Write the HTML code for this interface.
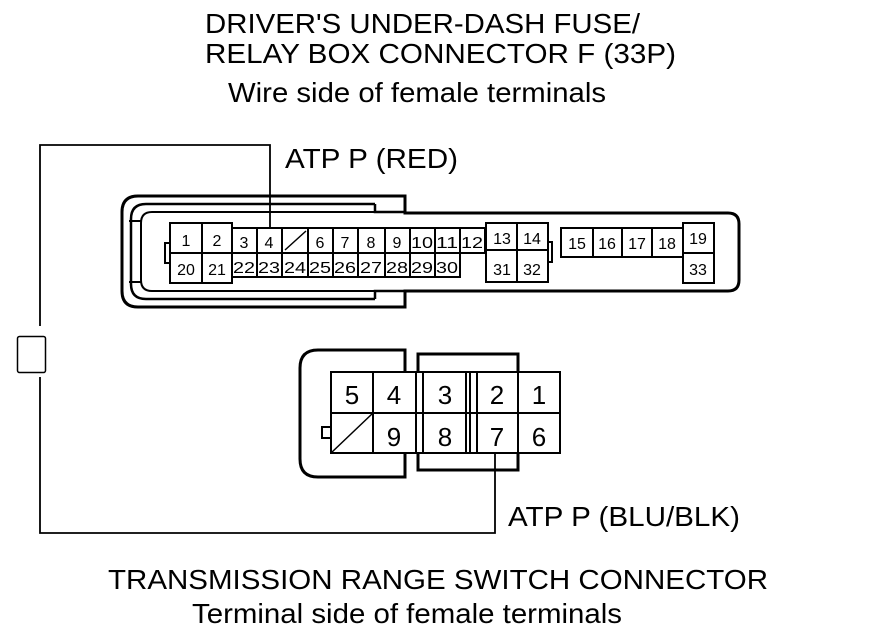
<!DOCTYPE html>
<html><head><meta charset="utf-8"><style>
html,body{margin:0;padding:0;background:#fff;}
svg{display:block;}
text{font-family:"Liberation Sans",sans-serif;fill:#000;}
</style></head><body>
<svg width="880" height="638" viewBox="0 0 880 638" xmlns="http://www.w3.org/2000/svg">
<g font-size="28">
<text x="205" y="33" textLength="435" lengthAdjust="spacingAndGlyphs">DRIVER'S UNDER-DASH FUSE/</text>
<text x="205" y="63" textLength="471" lengthAdjust="spacingAndGlyphs">RELAY BOX CONNECTOR F (33P)</text>
<text x="228" y="102" textLength="378" lengthAdjust="spacingAndGlyphs">Wire side of female terminals</text>
<text x="285" y="168" textLength="173" lengthAdjust="spacingAndGlyphs">ATP P (RED)</text>
<text x="508" y="526" textLength="232" lengthAdjust="spacingAndGlyphs">ATP P (BLU/BLK)</text>
<text x="108" y="589" textLength="660" lengthAdjust="spacingAndGlyphs">TRANSMISSION RANGE SWITCH CONNECTOR</text>
<text x="192" y="623" textLength="430" lengthAdjust="spacingAndGlyphs">Terminal side of female terminals</text>
</g>
<g fill="none" stroke="#000">
<path d="M270 228 V145 H40 V326" stroke-width="1.8"/>
<path d="M40 377 V533 H495 V453" stroke-width="1.8"/>
<rect x="17.5" y="336.5" width="28" height="36" rx="2" stroke-width="1.5"/>
</g>
<g fill="none" stroke="#000" stroke-width="3">
<path d="M405 196 H138 Q122 196 122 212 V291 Q122 307 138 307 H405 V291 H728 Q739 291 739 280 V224 Q739 213 728 213 H405 Z"/>
<path d="M375 204 H146 Q131 204 131 219 V284 Q131 299 146 299 H375" stroke-width="2.5"/>
<path d="M375 204 V212 H405" stroke-width="2.5"/>
<path d="M375 299 V291 H405" stroke-width="2.5"/>
<path d="M405 212 H152 Q141 212 141 223 V280 Q141 291 152 291 H405" stroke-width="2"/>
<path d="M141 221 H129 M141 282 H129" stroke-width="2"/>
</g>
<g fill="#fff" stroke="#000" stroke-width="2">
<rect x="165" y="243" width="5" height="20"/>
<rect x="170" y="223" width="32" height="60"/>
<rect x="202" y="223" width="30" height="60"/>
<rect x="232" y="228" width="253" height="25"/>
<rect x="232" y="253" width="228" height="24"/>
<rect x="486" y="223" width="62" height="59"/>
<rect x="548" y="242" width="4" height="20"/>
<rect x="561" y="228" width="122" height="29"/>
<rect x="683" y="223" width="31" height="60"/>
</g>
<g stroke="#000" stroke-width="2" fill="none">
<path d="M170 253 H232 M486 250 H548 M683 253 H714 M517 223 V282"/>
<path d="M257 228 V277 M282 228 V277 M308 228 V277 M333 228 V277 M358 228 V277 M385 228 V277 M410 228 V277 M435 228 V277 M460 228 V253"/>
<path d="M593 228 V257 M622 228 V257 M652 228 V257"/>
<path d="M285 250 L306 231" stroke-width="1.5"/>
</g>
<g font-size="16" text-anchor="middle">
<text x="186" y="246">1</text><text x="217" y="246">2</text>
<text x="244" y="248">3</text><text x="269" y="248">4</text>
<text x="320" y="248">6</text><text x="345" y="248">7</text><text x="371" y="248">8</text><text x="397" y="248">9</text>
<text x="422" y="248" textLength="22" lengthAdjust="spacingAndGlyphs">10</text><text x="447" y="248" textLength="22" lengthAdjust="spacingAndGlyphs">11</text><text x="472" y="248" textLength="22" lengthAdjust="spacingAndGlyphs">12</text>
<text x="186" y="275">20</text><text x="217" y="275">21</text>
<g textLength="22">
<text x="244" y="273" textLength="22" lengthAdjust="spacingAndGlyphs">22</text><text x="269" y="273" textLength="22" lengthAdjust="spacingAndGlyphs">23</text><text x="295" y="273" textLength="22" lengthAdjust="spacingAndGlyphs">24</text>
<text x="320" y="273" textLength="22" lengthAdjust="spacingAndGlyphs">25</text><text x="345" y="273" textLength="22" lengthAdjust="spacingAndGlyphs">26</text><text x="371" y="273" textLength="22" lengthAdjust="spacingAndGlyphs">27</text>
<text x="397" y="273" textLength="22" lengthAdjust="spacingAndGlyphs">28</text><text x="422" y="273" textLength="22" lengthAdjust="spacingAndGlyphs">29</text><text x="447" y="273" textLength="22" lengthAdjust="spacingAndGlyphs">30</text>
</g>
<text x="502" y="244">13</text><text x="532" y="244">14</text>
<text x="502" y="275">31</text><text x="532" y="275">32</text>
<text x="577" y="249">15</text><text x="607" y="249">16</text><text x="637" y="249">17</text><text x="667" y="249">18</text>
<text x="698" y="244">19</text><text x="698" y="275">33</text>
</g>
<g fill="none" stroke="#000" stroke-width="3">
<path d="M405 372 V350 H318 Q300 350 300 368 V459 Q300 477 318 477 H405 V453"/>
<path d="M418 372 V354 H518 V372 M418 453 V470 H518 V453"/>
</g>
<g fill="#fff" stroke="#000" stroke-width="2">
<rect x="322" y="427" width="9" height="11"/>
<rect x="331" y="372" width="229" height="81"/>
</g>
<g stroke="#000" stroke-width="2" fill="none">
<path d="M331 413 H560 M373 372 V453 M416 372 V453 M423 372 V453 M466 372 V453 M470 372 V453 M477 372 V453 M518 372 V453"/>
<path d="M331 453 L373 413" stroke-width="1.5"/>
</g>
<g font-size="26" text-anchor="middle">
<text x="352" y="404">5</text><text x="394" y="404">4</text><text x="445" y="404">3</text><text x="497" y="404">2</text><text x="539" y="404">1</text>
<text x="394" y="446">9</text><text x="445" y="446">8</text><text x="497" y="446">7</text><text x="539" y="446">6</text>
</g>
</svg>
</body></html>
